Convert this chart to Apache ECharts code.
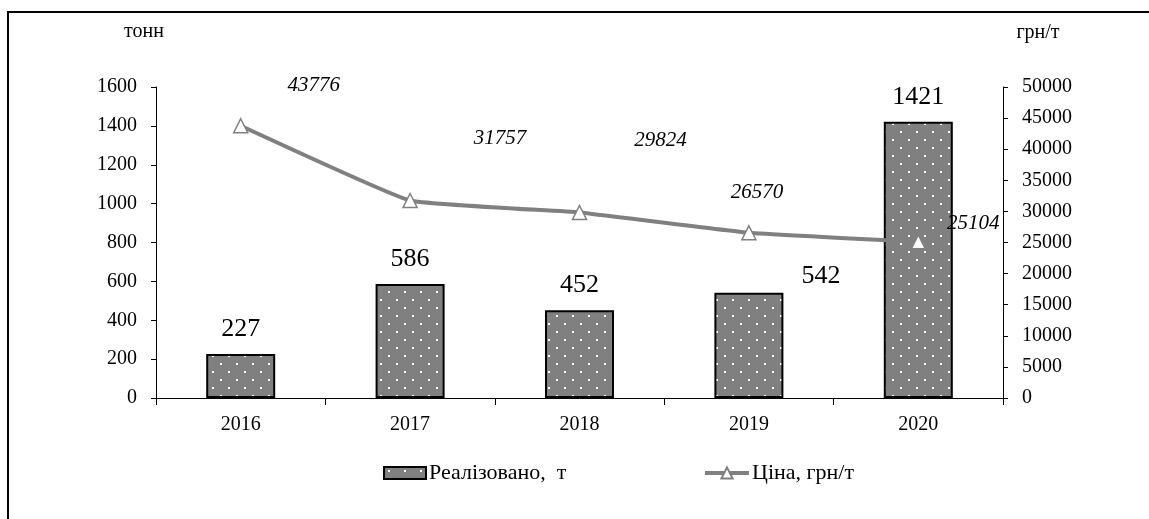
<!DOCTYPE html>
<html><head><meta charset="utf-8">
<script src="https://cdn.jsdelivr.net/npm/echarts@6/dist/echarts.min.js"></script>
<style>html,body{margin:0;padding:0;background:#fff}#c{width:1149px;height:519px}</style>
</head><body><div id="c"></div>
<script>
// ---- data ----
const years = ['2016', '2017', '2018', '2019', '2020'];
const soldTonnes = [227, 586, 452, 542, 1421];
const pricePerTonne = [43776, 31757, 29824, 26570, 25104];
const leftTicks = [0, 1600, 200];
const rightTicks = [0, 50000, 5000];
const barName = 'Реалізовано,  т';
const lineName = 'Ціна, грн/т';

// ---- styles (separate from data) ----
const priceLabelOffsets = [[73, -17], [90, -39], [81, -49], [8, -17], [55, 5]];
const soldLabelOffsets = [[0, 0], [0, 0], [0, 0], [72, 9], [0, 0]];
const FONT = '"Liberation Serif", "Times New Roman", serif';

const cv = document.createElement('canvas');
cv.width = 16; cv.height = 16;
const g = cv.getContext('2d');
g.fillStyle = '#808080'; g.fillRect(0, 0, 16, 16);
g.fillStyle = '#ffffff';
g.fillRect(4, 3, 2, 2); g.fillRect(12, 11, 2, 2);

const plain = v => String(v);

const chart = echarts.init(document.getElementById('c'));
chart.setOption({
  animation: false,
  backgroundColor: '#fff',
  textStyle: { fontFamily: FONT, color: '#000' },
  grid: { left: 156, right: 146, top: 87, bottom: 121, containLabel: false },
  graphic: [
    { type: 'rect', shape: { x: 8, y: 12, width: 1200, height: 600 }, style: { fill: 'none', stroke: '#000', lineWidth: 2 }, silent: true, z: -1 },
    { type: 'text', x: 144, y: 32, style: { text: 'тонн', font: '20px ' + FONT, fill: '#000', align: 'center', verticalAlign: 'middle' } },
    { type: 'text', x: 1038, y: 33, style: { text: 'грн/т', font: '20px ' + FONT, fill: '#000', align: 'center', verticalAlign: 'middle' } }
  ],
  legend: [
    { data: [{ name: barName, icon: 'rect' }], left: 383, top: 462, padding: 0, itemWidth: 42, itemHeight: 12, itemGap: 0,
      textStyle: { fontFamily: FONT, fontSize: 22, color: '#000', padding: [0, 0, 0, -2] } },
    { data: [lineName], left: 703, top: 462, padding: 0, itemWidth: 44, itemHeight: 14, itemGap: 0,
      lineStyle: { width: 4, color: '#808080' },
      textStyle: { fontFamily: FONT, fontSize: 22, color: '#000', padding: [0, 0, 0, -2] } }
  ],
  xAxis: {
    type: 'category', data: years,
    axisLine: { lineStyle: { color: '#000', width: 1 } },
    axisTick: { show: true, length: 7, lineStyle: { color: '#000' }, alignWithLabel: false },
    axisLabel: { fontFamily: FONT, fontSize: 20, color: '#000', margin: 17 }
  },
  yAxis: [
    {
      type: 'value', min: leftTicks[0], max: leftTicks[1], interval: leftTicks[2],
      position: 'left',
      axisLine: { show: true, lineStyle: { color: '#000' } },
      axisTick: { show: true, length: 5, lineStyle: { color: '#000' } },
      splitLine: { show: false },
      axisLabel: { fontFamily: FONT, fontSize: 20, color: '#000', margin: 19, formatter: plain }
    },
    {
      type: 'value', min: rightTicks[0], max: rightTicks[1], interval: rightTicks[2],
      position: 'right',
      axisLine: { show: true, lineStyle: { color: '#000' } },
      axisTick: { show: true, length: 5, lineStyle: { color: '#000' } },
      splitLine: { show: false },
      axisLabel: { fontFamily: FONT, fontSize: 20, color: '#000', margin: 19, formatter: plain }
    }
  ],
  series: [
    {
      name: barName, type: 'bar', yAxisIndex: 0, barWidth: 69,
      itemStyle: { color: { image: cv, repeat: 'repeat' }, borderColor: '#000', borderWidth: 2 },
      label: { show: true, position: 'top', distance: 12, fontFamily: FONT, fontSize: 26, color: '#000' },
      data: soldTonnes.map((v, i) => ({ value: v, label: { offset: soldLabelOffsets[i] } }))
    },
    {
      name: lineName, type: 'line', yAxisIndex: 1, smooth: 0.1,
      symbol: 'triangle', symbolSize: 14,
      lineStyle: { color: '#808080', width: 4 },
      itemStyle: { color: '#fff', borderColor: '#808080', borderWidth: 1.5 },
      label: { show: true, position: 'top', fontFamily: FONT, fontStyle: 'italic', fontSize: 21, color: '#000', formatter: p => plain(p.value) },
      data: pricePerTonne.map((v, i) => ({ value: v, label: { offset: priceLabelOffsets[i] } })),
      z: 5
    }
  ]
});
</script></body></html>
